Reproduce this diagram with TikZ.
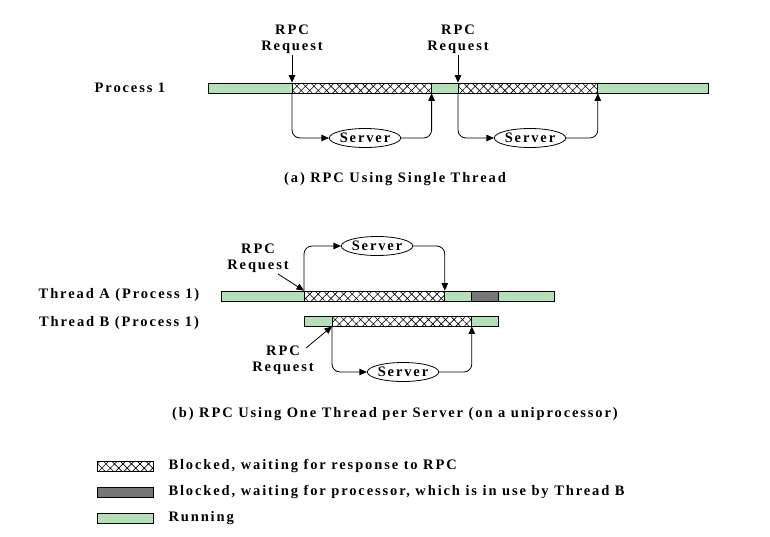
\documentclass[tikz,border=0pt]{standalone}
\usepackage{fontspec}
\setmainfont{Liberation Serif}[LetterSpace=13]
\usetikzlibrary{positioning,shapes.geometric,arrows.meta,patterns.meta}
\definecolor{runcol}{HTML}{B4E0B8}
\definecolor{busycol}{HTML}{777777}

\begin{document}
\begin{tikzpicture}[x=1pt, y=-1pt, line width=0.8pt,
    font=\fontsize{14.5}{16.5}\selectfont\bfseries,
    run/.style={draw, fill=runcol, anchor=west, minimum height=10pt, inner sep=0pt},
    blk/.style={draw, pattern={Hatch[angle=45,distance=6pt,line width=0.6pt]}, anchor=west, minimum height=10pt, inner sep=0pt},
    busy/.style={draw, fill=busycol, anchor=west, minimum height=10pt, inner sep=0pt},
    srv/.style={draw, ellipse, minimum width=68pt, minimum height=19pt, inner sep=0pt},
    req/.style={align=center, inner sep=1pt},
    arr/.style={-{Triangle[length=7.5pt,width=6.5pt]}, rounded corners=8pt}]
    \useasboundingbox (0,0) rectangle (770,536);

    % (a) single thread
    \node (p1) at (130,88) {Process 1};
    \node[run, minimum width=84pt] (p1-r1) at (208,88) {};
    \node[blk, minimum width=139pt] (p1-b1) at (292,88) {};
    \node[run, minimum width=27pt] (p1-r2) at (431,88) {};
    \node[blk, minimum width=139pt] (p1-b2) at (458,88) {};
    \node[run, minimum width=111pt] (p1-r3) at (597,88) {};

    \node[req] (req1) at (292,39) {RPC\\Request};
    \node[req] (req2) at (458,39) {RPC\\Request};
    \node[srv] (srv1) at (365,138) {Server};
    \node[srv] (srv2) at (530,138) {Server};

    \draw[arr] (req1.south) -- (p1-b1.north west);
    \draw[arr] (p1-b1.south west) |- (srv1);
    \draw[arr] (srv1) -| (p1-b1.south east);
    \draw[arr] (req2.south) -- (p1-b2.north west);
    \draw[arr] (p1-b2.south west) |- (srv2);
    \draw[arr] (srv2) -| (p1-b2.south east);

    \node (capa) at (395,179) {(a) RPC Using Single Thread};

    % (b) one thread per server
    \node (tA) at (119,295) {Thread A (Process 1)};
    \node (tB) at (119,323) {Thread B (Process 1)};
    \node[run, minimum width=83pt] (tA-r1) at (221,296) {};
    \node[blk, minimum width=140pt] (tA-b1) at (304,296) {};
    \node[run, minimum width=27pt] (tA-r2) at (444,296) {};
    \node[busy, minimum width=27pt] (tA-w1) at (471,296) {};
    \node[run, minimum width=56pt] (tA-r3) at (498,296) {};
    \node[run, minimum width=28pt] (tB-r1) at (304,321) {};
    \node[blk, minimum width=139pt] (tB-b1) at (332,321) {};
    \node[run, minimum width=27pt] (tB-r2) at (471,321) {};

    \node[req] (reqA) at (258,258) {RPC\\Request};
    \node[req] (reqB) at (283,360) {RPC\\Request};
    \node[srv] (srvA) at (377,246) {Server};
    \node[srv] (srvB) at (403,372) {Server};

    \draw[arr] ([xshift=-12pt]reqA.south east) -- (tA-b1.north west);
    \draw[arr] (tA-b1.north west) |- (srvA);
    \draw[arr] (srvA) -| (tA-b1.north east);
    \draw[arr] ([shift={(-9,4)}]reqB.north east) -- (tB-b1.south west);
    \draw[arr] (tB-b1.south west) |- (srvB);
    \draw[arr] (srvB) -| (tB-b1.south east);

    \node (capb) at (395,414) {(b) RPC Using One Thread per Server (on a uniprocessor)};

    % legend
    \node[blk, minimum width=56pt] (lg1) at (97,466) {};
    \node[busy, minimum width=56pt] (lg2) at (97,492) {};
    \node[run, minimum width=56pt] (lg3) at (97,518) {};
    \node[right=11pt of lg1] (lg1-t) {Blocked, waiting for response to RPC};
    \node[right=11pt of lg2] (lg2-t) {Blocked, waiting for processor, which is in use by Thread B};
    \node[right=11pt of lg3] (lg3-t) {Running};
\end{tikzpicture}
\end{document}
